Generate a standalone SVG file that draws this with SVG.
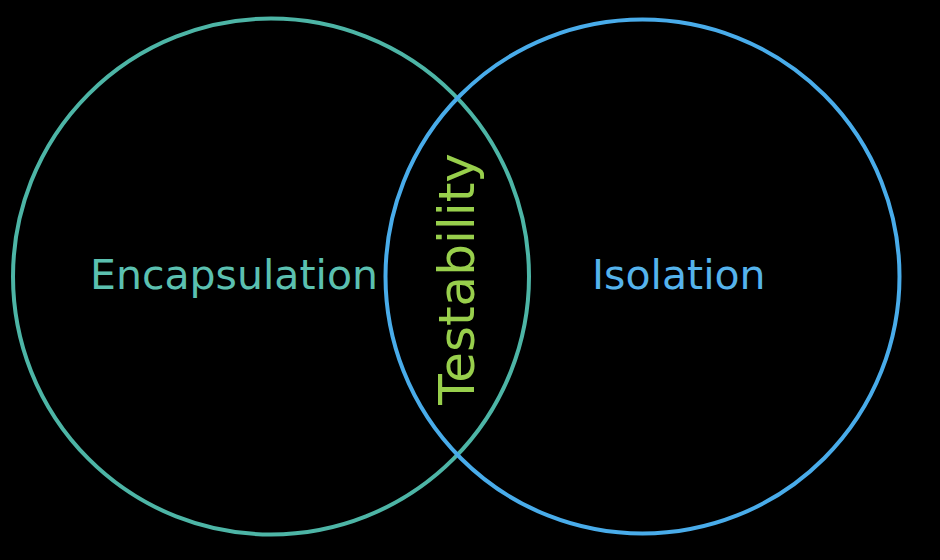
<svg xmlns="http://www.w3.org/2000/svg" width="940" height="560" viewBox="0 0 940 560">
<style>
.c{fill:none;stroke-width:4}
.t{font-family:"DejaVu Sans",Verdana,sans-serif}
</style>
<rect width="940" height="560" fill="#000"/>
<g id="encapsulation">
<circle class="c" cx="271" cy="276.5" r="258" stroke="#4db5a6"/>
<text class="t" x="90" y="289" font-size="41" fill="#5bc0b0">Encapsulation</text>
</g>
<g id="isolation">
<circle class="c" cx="642.5" cy="276.5" r="257" stroke="#49acea"/>
<text class="t" x="592" y="289" font-size="41" fill="#55b3ec">Isolation</text>
</g>
<g id="testability">
<text class="t" transform="translate(474,279) rotate(-90)" text-anchor="middle" font-size="50" fill="#98cf4c">Testability</text>
</g>
<g id="connectors"/>
</svg>
